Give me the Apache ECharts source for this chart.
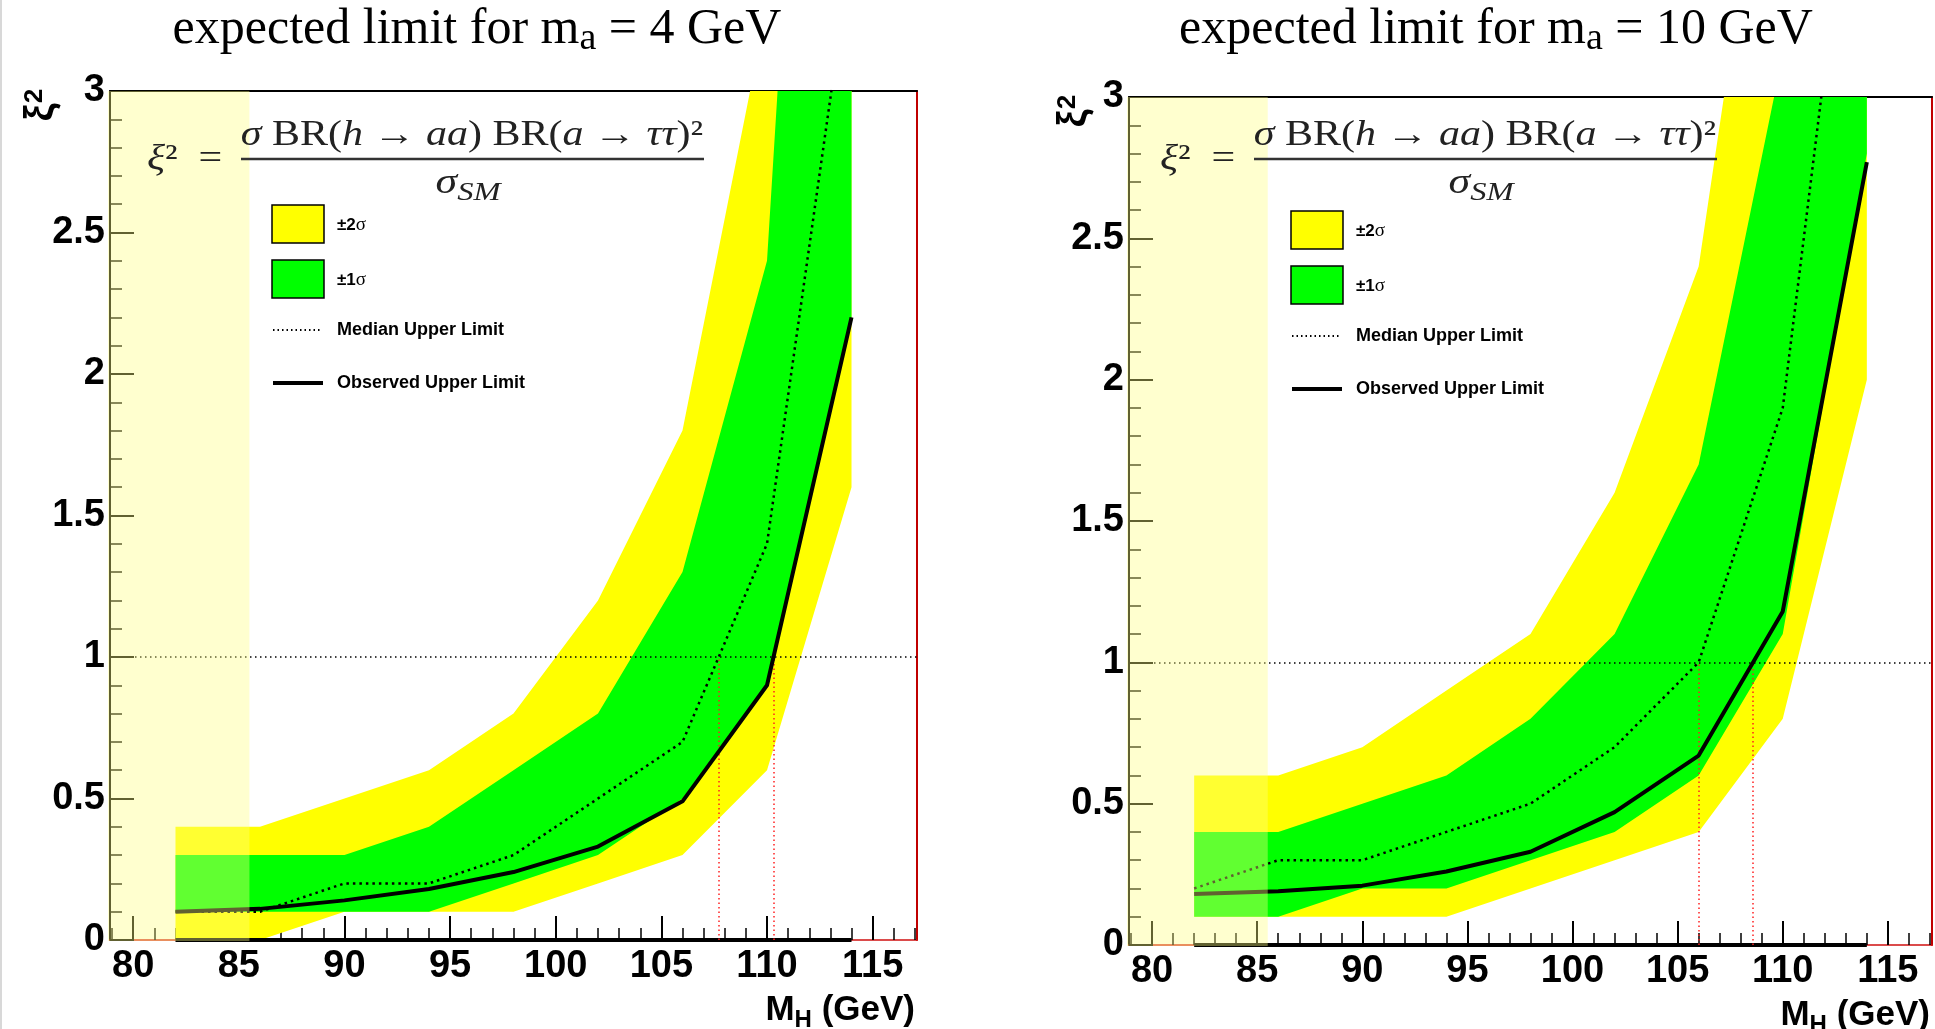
<!DOCTYPE html>
<html>
<head>
<meta charset="utf-8">
<title>expected limit</title>
<script src="https://cdn.jsdelivr.net/npm/echarts@6.0.0/dist/echarts.min.js"></script>
<style>
  html, body { margin: 0; padding: 0; background: #fff; }
  #chart { width: 1935px; height: 1029px; }
</style>
</head>
<body>
<div id="chart"></div>
<script>
// Higgs mass points (GeV), shared by both panels
const massPoints = [82, 86, 90, 94, 98, 102, 106, 110, 114];
const xTickLabels = [80, 85, 90, 95, 100, 105, 110, 115];
const yTickLabels = [0, 0.5, 1, 1.5, 2, 2.5, 3];

// m_a = 4 GeV
const ma4YellowLow  = [0, 0, 0.1, 0.1, 0.1, 0.2, 0.3, 0.6, 1.6];
const ma4YellowHigh = [0.4, 0.4, 0.5, 0.6, 0.8, 1.2, 1.8, 3.3, 8.0];
const ma4GreenLow   = [0.1, 0.1, 0.1, 0.1, 0.2, 0.3, 0.5, 0.9, 2.2];
const ma4GreenHigh  = [0.3, 0.3, 0.3, 0.4, 0.6, 0.8, 1.3, 2.4, 7.2];
const ma4Median     = [0.1, 0.1, 0.2, 0.2, 0.3, 0.5, 0.7, 1.4, 3.5];
const ma4Observed   = [0.1, 0.11, 0.14, 0.18, 0.24, 0.33, 0.49, 0.9, 2.2];

// m_a = 10 GeV
const ma10YellowLow  = [0.1, 0.1, 0.1, 0.1, 0.2, 0.3, 0.4, 0.8, 2.0];
const ma10YellowHigh = [0.6, 0.6, 0.7, 0.9, 1.1, 1.6, 2.4, 4.4, 8.0];
const ma10GreenLow   = [0.1, 0.1, 0.2, 0.2, 0.3, 0.4, 0.6, 1.1, 2.8];
const ma10GreenHigh  = [0.4, 0.4, 0.5, 0.6, 0.8, 1.1, 1.7, 3.15, 6.0];
const ma10Median     = [0.2, 0.3, 0.3, 0.4, 0.5, 0.7, 1.0, 1.9, 4.3];
const ma10Observed   = [0.18, 0.19, 0.21, 0.26, 0.33, 0.47, 0.67, 1.18, 2.77];

const X_MIN = 78.9, X_MAX = 117.1, Y_MIN = 0, Y_MAX = 3;
const shadeMax = 85.5;   // excluded region drawn pale yellow

const SERIF = "'Liberation Serif', 'DejaVu Serif', 'Times New Roman', serif";
const SANS = "'Liberation Sans', Arial, Helvetica, sans-serif";

const panels = [
    { title: 'expected limit for m{sub|a} = 4 GeV', titleX: 477,
      grid: { left: 110, top: 91, width: 807, height: 849 }, formulaX: 131, nameX: 42,
      yl: ma4YellowLow, yh: ma4YellowHigh, gl: ma4GreenLow, gh: ma4GreenHigh,
      median: ma4Median, observed: ma4Observed },
    { title: 'expected limit for m{sub|a} = 10 GeV', titleX: 1496,
      grid: { left: 1129, top: 97, width: 803, height: 848 }, formulaX: 125, nameX: 1075,
      yl: ma10YellowLow, yh: ma10YellowHigh, gl: ma10GreenLow, gh: ma10GreenHigh,
      median: ma10Median, observed: ma10Observed }
]

function pairs (vals) {
    return massPoints.map((m, i) => [m, vals[i]])
}

function crossingAtOne (vals) {
    for (let i = 0; i < vals.length - 1; i++) {
        if (vals[i] < 1 && vals[i + 1] >= 1) {
            return massPoints[i] + (1 - vals[i]) * (massPoints[i + 1] - massPoints[i]) / (vals[i + 1] - vals[i])
        }
    }
    return null
}

// one polygon per band: upper edge left->right, lower edge right->left
function bandRenderer (fill) {
    return function (params, api) {
        if (params.dataIndexInside !== 0) return
        const up = [], down = []
        for (let k = 0; k < params.dataInsideLength; k++) {
            up.push(api.coord([api.value(0, k), api.value(2, k)]))
            down.unshift(api.coord([api.value(0, k), api.value(1, k)]))
        }
        return { type: 'polygon', shape: { points: up.concat(down) }, style: { fill: fill } }
    }
}

const minorTicks = []
for (let v = Math.ceil(X_MIN); v <= X_MAX; v++) minorTicks.push(v)

const grids = [], xAxes = [], yAxes = [], series = [], graphics = []

panels.forEach((p, ci) => {
    grids.push(Object.assign({ containLabel: false, outerBoundsMode: 'none' }, p.grid))
    const xi = xAxes.length, yi = yAxes.length
    // main bottom axis: labels + major ticks
    xAxes.push({
        type: 'value', gridIndex: ci, position: 'bottom', min: X_MIN, max: X_MAX,
        axisLine: { show: true, onZero: false, lineStyle: { color: '#d01010', width: 1.5 } },
        axisTick: { show: true, inside: true, length: 24, customValues: xTickLabels, lineStyle: { color: '#000', width: 2 } },
        axisLabel: { show: true, customValues: xTickLabels, margin: 8, color: '#000', fontFamily: SANS, fontWeight: 'bold', fontSize: 38 },
        splitLine: { show: false }
    })
    // minor ticks every GeV
    xAxes.push({
        type: 'value', gridIndex: ci, position: 'bottom', min: X_MIN, max: X_MAX,
        axisLine: { show: false },
        axisTick: { show: true, inside: true, length: 12, customValues: minorTicks, lineStyle: { color: '#000', width: 1.5 } },
        axisLabel: { show: false }, splitLine: { show: false }
    })
    // top frame
    xAxes.push({
        type: 'value', gridIndex: ci, position: 'top', min: X_MIN, max: X_MAX,
        axisLine: { show: true, onZero: false, lineStyle: { color: '#000', width: 2 } },
        axisTick: { show: false }, axisLabel: { show: false }, splitLine: { show: false }
    })
    yAxes.push({
        type: 'value', gridIndex: ci, position: 'left', min: Y_MIN, max: Y_MAX, interval: 0.5,
        axisLine: { show: true, onZero: false, lineStyle: { color: '#000', width: 2 } },
        axisTick: { show: true, inside: true, length: 24, lineStyle: { color: '#000', width: 2 } },
        minorTick: { show: true, splitNumber: 5, length: 12, lineStyle: { color: '#000', width: 1.5 } },
        axisLabel: { show: true, margin: 5, color: '#000', fontFamily: SANS, fontWeight: 'bold', fontSize: 38 },
        splitLine: { show: false }, minorSplitLine: { show: false }
    })
    yAxes.push({
        type: 'value', gridIndex: ci, position: 'right', min: Y_MIN, max: Y_MAX,
        axisLine: { show: true, onZero: false, lineStyle: { color: '#c00000', width: 2 } },
        axisTick: { show: false }, axisLabel: { show: false }, splitLine: { show: false }
    })

    const common = { xAxisIndex: xi, yAxisIndex: yi, symbol: 'none', silent: true, animation: false }

    series.push({
        name: '±2σ', type: 'custom', xAxisIndex: xi, yAxisIndex: yi, clip: true, silent: true, z: 2,
        data: massPoints.map((m, i) => [m, p.yl[i], p.yh[i]]), encode: { x: 0, y: [1, 2] },
        renderItem: bandRenderer('#ffff00')
    })
    series.push({
        name: '±1σ', type: 'custom', xAxisIndex: xi, yAxisIndex: yi, clip: true, silent: true, z: 3,
        data: massPoints.map((m, i) => [m, p.gl[i], p.gh[i]]), encode: { x: 0, y: [1, 2] },
        renderItem: bandRenderer('#00ff00')
    })

    const xMed = crossingAtOne(p.median), xObs = crossingAtOne(p.observed)
    // baseline bar + reference lines
    series.push(Object.assign({}, common, {
        type: 'line', z: 4,
        data: [[massPoints[0], 0], [massPoints[massPoints.length - 1], 0]],
        lineStyle: { color: '#000', width: 4 },
        markLine: {
            silent: true, symbol: ['none', 'none'], label: { show: false }, animation: false,
            data: [
                { yAxis: 1, lineStyle: { color: '#000', width: 1.5, type: [1.5, 3.5] } },
                [{ coord: [xMed, 0], lineStyle: { color: '#ff2020', width: 1.5, type: [1.5, 3] } }, { coord: [xMed, 1] }],
                [{ coord: [xObs, 0], lineStyle: { color: '#ff2020', width: 1.5, type: [1.5, 3] } }, { coord: [xObs, 1] }]
            ]
        }
    }))
    series.push(Object.assign({}, common, {
        name: 'Median Upper Limit', type: 'line', z: 6, data: pairs(p.median),
        lineStyle: { color: '#000', width: 2.5, type: [2.5, 4] }
    }))
    series.push(Object.assign({}, common, {
        name: 'Observed Upper Limit', type: 'line', z: 6, data: pairs(p.observed),
        lineStyle: { color: '#000', width: 4, join: 'round' }
    }))
    // pale excluded region on top of everything
    series.push({
        type: 'custom', xAxisIndex: xi, yAxisIndex: yi, z: 10, silent: true, animation: false,
        data: [[X_MIN, Y_MIN, shadeMax, Y_MAX]], encode: { x: [0, 2], y: [1, 3] },
        renderItem: (params, api) => {
            const a = api.coord([api.value(0), api.value(3)])
            const b = api.coord([api.value(2), api.value(1)])
            return {
                type: 'rect',
                shape: { x: a[0] - 2, y: a[1], width: b[0] - a[0] + 2, height: b[1] - a[1] + 1 },
                style: { fill: 'rgba(255,255,128,0.38)' }
            }
        }
    })

    // texts: title, formula, legend, axis names
    const gx = p.grid.left, gy = p.grid.top, fx = gx + p.formulaX
    graphics.push(
        { type: 'text', x: p.titleX, y: 2, z: 100,
          style: { text: p.title, fontFamily: SERIF, fontSize: 50, lineHeight: 56, fill: '#000',
                   align: 'center', verticalAlign: 'top',
                   rich: { sub: { fontFamily: SERIF, fontSize: 38, lineHeight: 38, verticalAlign: 'bottom' } } } },
        { type: 'text', x: fx - 94, y: 160, z: 100, scaleX: 1.2,
          style: { text: '{i|ξ}²  =', fontFamily: SERIF, fontSize: 35, fill: '#222', align: 'left', verticalAlign: 'middle',
                   rich: { i: { fontFamily: SERIF, fontStyle: 'italic', fontSize: 35 } } } },
        { type: 'text', x: fx + 231, y: 136, z: 100, scaleX: 1.2,
          style: { text: '{i|σ} BR({i|h} → {i|aa}) BR({i|a} → {i|ττ})²', fontFamily: SERIF, fontSize: 35, fill: '#222',
                   align: 'center', verticalAlign: 'middle',
                   rich: { i: { fontFamily: SERIF, fontStyle: 'italic', fontSize: 35 } } } },
        { type: 'line', z: 100, shape: { x1: fx, y1: 159, x2: fx + 463, y2: 159 }, style: { stroke: '#333', lineWidth: 2.5 } },
        { type: 'text', x: fx + 227, y: 162, z: 100, scaleX: 1.25,
          style: { text: '{i|σ}{s|SM}', fontFamily: SERIF, fontSize: 35, lineHeight: 44, fill: '#222',
                   align: 'center', verticalAlign: 'top',
                   rich: { i: { fontFamily: SERIF, fontStyle: 'italic', fontSize: 35 },
                           s: { fontFamily: SERIF, fontStyle: 'italic', fontSize: 26, lineHeight: 22, verticalAlign: 'bottom' } } } },
        { type: 'rect', z: 100, shape: { x: gx + 162, y: gy + 114, width: 52, height: 38 },
          style: { fill: '#ffff00', stroke: '#000', lineWidth: 1.5 } },
        { type: 'rect', z: 100, shape: { x: gx + 162, y: gy + 169, width: 52, height: 38 },
          style: { fill: '#00ff00', stroke: '#000', lineWidth: 1.5 } },
        { type: 'text', x: gx + 227, y: gy + 134, z: 100,
          style: { text: '{b|±2}{s|σ}', verticalAlign: 'middle', fill: '#000',
                   rich: { b: { fontFamily: SANS, fontWeight: 'bold', fontSize: 17 }, s: { fontFamily: SERIF, fontSize: 19 } } } },
        { type: 'text', x: gx + 227, y: gy + 189, z: 100,
          style: { text: '{b|±1}{s|σ}', verticalAlign: 'middle', fill: '#000',
                   rich: { b: { fontFamily: SANS, fontWeight: 'bold', fontSize: 17 }, s: { fontFamily: SERIF, fontSize: 19 } } } },
        { type: 'line', z: 100, shape: { x1: gx + 163, y1: gy + 239, x2: gx + 212, y2: gy + 239 },
          style: { stroke: '#000', lineWidth: 2, lineDash: [1.5, 3] } },
        { type: 'text', x: gx + 227, y: gy + 239, z: 100,
          style: { text: 'Median Upper Limit', fontFamily: SANS, fontWeight: 'bold', fontSize: 18, fill: '#000', verticalAlign: 'middle' } },
        { type: 'line', z: 100, shape: { x1: gx + 163, y1: gy + 292, x2: gx + 213, y2: gy + 292 },
          style: { stroke: '#000', lineWidth: 4 } },
        { type: 'text', x: gx + 227, y: gy + 292, z: 100,
          style: { text: 'Observed Upper Limit', fontFamily: SANS, fontWeight: 'bold', fontSize: 18, fill: '#000', verticalAlign: 'middle' } },
        { type: 'text', x: p.nameX, y: gy + 14, z: 100, rotation: Math.PI / 2,
          style: { text: 'ξ{s|2}', fontFamily: SANS, fontWeight: 'bold', fontSize: 40, fill: '#000', align: 'center', verticalAlign: 'middle',
                   rich: { s: { fontFamily: SANS, fontWeight: 'bold', fontSize: 26, verticalAlign: 'top' } } } },
        { type: 'text', x: gx + p.grid.width - 2, y: gy + p.grid.height + 48, z: 100,
          style: { text: 'M{sub|H} (GeV)', fontFamily: SANS, fontWeight: 'bold', fontSize: 35, lineHeight: 44, fill: '#000',
                   align: 'right', verticalAlign: 'top',
                   rich: { sub: { fontFamily: SANS, fontWeight: 'bold', fontSize: 24, lineHeight: 24, verticalAlign: 'bottom' } } } }
    )
})

graphics.push({ type: 'line', z: 100, shape: { x1: 1, y1: 0, x2: 1, y2: 1029 }, style: { stroke: '#d8d8d8', lineWidth: 2 } })

const chart = echarts.init(document.getElementById('chart'))
chart.setOption({
    backgroundColor: '#fff',
    animation: false,
    grid: grids,
    xAxis: xAxes,
    yAxis: yAxes,
    series: series,
    graphic: { elements: graphics }
})
window.addEventListener('resize', () => chart.resize())
</script>
</body>
</html>
